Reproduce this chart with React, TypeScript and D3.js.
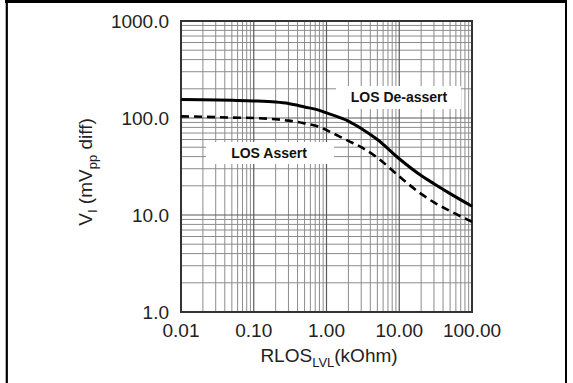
import { useRef, useEffect } from "react";
import * as d3 from "d3";

// RLOS_LVL resistance in kOhm
const rlos = [0.01, 0.02, 0.05, 0.1, 0.2, 0.3, 0.5, 0.8, 1, 2, 3, 5, 10, 20, 30, 50, 100];
// LOS de-assert threshold (mVpp diff)
const deassert = [155, 154, 152, 150, 146, 141, 130, 120, 113, 93, 78, 60, 38, 25.5, 21, 16.6, 12.3];
// LOS assert threshold (mVpp diff)
const assert = [104, 103, 101, 100, 97, 94, 88, 81, 75, 58, 50, 39, 25, 16.5, 13.5, 11, 8.5];

const xTicks = [0.01, 0.1, 1, 10, 100];
const xTickLabels = ["0.01", "0.10", "1.00", "10.00", "100.00"];
const yTicks = [1, 10, 100, 1000];
const yTickLabels = ["1.0", "10.0", "100.0", "1000.0"];

const W = 573;
const H = 383;

export default function App() {
  const svgRef = useRef<SVGSVGElement>(null);

  useEffect(() => {
    if (!svgRef.current) return;
    const svg = d3.select(svgRef.current);
    svg.selectAll("*").remove();

    const plot = { left: 181, right: 472, top: 21, bottom: 312 };
    const font = "Liberation Sans, Arial, sans-serif";

    svg.append("rect").attr("width", W).attr("height", H).attr("fill", "#fff");

    // outer frame (top + left + right)
    svg.append("line").attr("x1", 5).attr("x2", 567).attr("y1", 1.5).attr("y2", 1.5)
      .attr("stroke", "#000").attr("stroke-width", 3);
    svg.append("line").attr("x1", 6.8).attr("x2", 6.8).attr("y1", 0).attr("y2", H)
      .attr("stroke", "#000").attr("stroke-width", 2.2);
    svg.append("line").attr("x1", 566).attr("x2", 566).attr("y1", 0).attr("y2", H)
      .attr("stroke", "#000").attr("stroke-width", 2);

    const x = d3.scaleLog().domain([0.01, 100]).range([plot.left, plot.right]);
    const y = d3.scaleLog().domain([1, 1000]).range([plot.bottom, plot.top]);

    const g = svg.append("g");

    // minor + major grid
    const xMinor: number[] = [];
    for (let e = -2; e < 2; e++) for (let k = 2; k <= 9; k++) xMinor.push(k * Math.pow(10, e));
    const yMinor: number[] = [];
    for (let e = 0; e < 3; e++) for (let k = 2; k <= 9; k++) yMinor.push(k * Math.pow(10, e));

    g.selectAll(".xminor").data(xMinor).join("line")
      .attr("x1", (d) => x(d)).attr("x2", (d) => x(d))
      .attr("y1", plot.top).attr("y2", plot.bottom)
      .attr("stroke", "#8c8c8c").attr("stroke-width", 1);
    g.selectAll(".yminor").data(yMinor).join("line")
      .attr("x1", plot.left).attr("x2", plot.right)
      .attr("y1", (d) => y(d)).attr("y2", (d) => y(d))
      .attr("stroke", "#8c8c8c").attr("stroke-width", 1);
    g.selectAll(".xmajor").data(xTicks).join("line")
      .attr("x1", (d) => x(d)).attr("x2", (d) => x(d))
      .attr("y1", plot.top).attr("y2", plot.bottom)
      .attr("stroke", "#5a5a5a").attr("stroke-width", 1.2);
    g.selectAll(".ymajor").data(yTicks).join("line")
      .attr("x1", plot.left).attr("x2", plot.right)
      .attr("y1", (d) => y(d)).attr("y2", (d) => y(d))
      .attr("stroke", "#5a5a5a").attr("stroke-width", 1.2);

    // label boxes
    const labels = [
      { text: "LOS De-assert", cx: 399, cy: 97, bx: 336, bw: 125, by: 86, bh: 23 },
      { text: "LOS Assert", cx: 269, cy: 152.5, bx: 206, bw: 128, by: 142, bh: 22 },
    ];
    labels.forEach((l) => {
      g.append("rect").attr("x", l.bx).attr("y", l.by).attr("width", l.bw).attr("height", l.bh)
        .attr("fill", "#fff");
    });

    // plot frame
    g.append("rect")
      .attr("x", plot.left).attr("y", plot.top)
      .attr("width", plot.right - plot.left).attr("height", plot.bottom - plot.top)
      .attr("fill", "none").attr("stroke", "#333").attr("stroke-width", 2);

    const line = (vals: number[]) =>
      d3.line<number>()
        .x((_, i) => x(rlos[i]))
        .y((d) => y(d))
        .curve(d3.curveMonotoneX)(vals);

    g.append("path").attr("d", line(deassert)!).attr("fill", "none")
      .attr("stroke", "#000").attr("stroke-width", 3);
    g.append("path").attr("d", line(assert)!).attr("fill", "none")
      .attr("stroke", "#000").attr("stroke-width", 2.6).attr("stroke-dasharray", "8,5");

    labels.forEach((l) => {
      g.append("text").attr("x", l.cx).attr("y", l.cy).attr("dy", "0.36em")
        .attr("text-anchor", "middle").attr("font-family", font).attr("font-weight", "bold")
        .attr("font-size", 14).attr("fill", "#111").text(l.text);
    });

    // tick labels
    svg.selectAll(".xt").data(xTicks).join("text")
      .attr("x", (d) => x(d)).attr("y", 337)
      .attr("text-anchor", "middle").attr("font-family", font).attr("font-size", 19)
      .attr("fill", "#222").text((_, i) => xTickLabels[i]);
    svg.selectAll(".yt").data(yTicks).join("text")
      .attr("x", 169).attr("y", (d) => y(d)).attr("dy", "0.36em")
      .attr("text-anchor", "end").attr("font-family", font).attr("font-size", 19)
      .attr("fill", "#222").text((_, i) => yTickLabels[i]);

    // x title
    const xt = svg.append("text").attr("x", 329).attr("y", 362).attr("text-anchor", "middle")
      .attr("font-family", font).attr("font-size", 19).attr("fill", "#222");
    xt.append("tspan").text("RLOS");
    xt.append("tspan").attr("font-size", 13).attr("dy", 5).text("LVL");
    xt.append("tspan").attr("dy", -5).text("(kOhm)");

    // y title
    const yt = svg.append("text").attr("transform", `translate(92,172) rotate(-90)`)
      .attr("text-anchor", "middle").attr("font-family", font).attr("font-size", 19)
      .attr("fill", "#222");
    yt.append("tspan").text("V");
    yt.append("tspan").attr("font-size", 13).attr("dy", 5).text("I");
    yt.append("tspan").attr("dy", -5).text(" (mV");
    yt.append("tspan").attr("font-size", 13).attr("dy", 5).text("pp");
    yt.append("tspan").attr("dy", -5).text(" diff)");
  }, []);

  return (
    <svg
      ref={svgRef}
      width={W}
      height={H}
      style={{ position: "absolute", left: 0, top: 0 }}
    />
  );
}
